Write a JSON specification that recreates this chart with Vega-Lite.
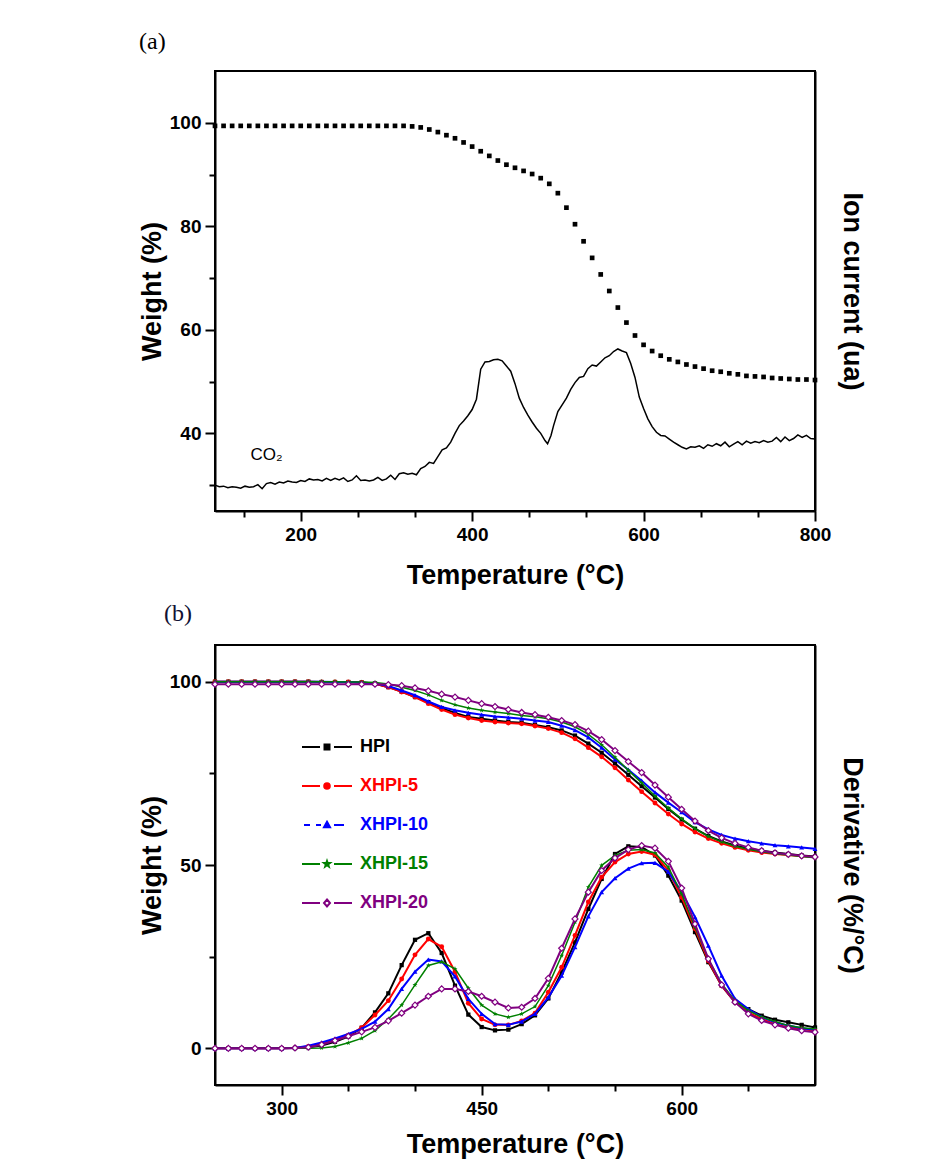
{
  "$schema": "https://vega.github.io/schema/vega-lite/v6.json",
  "background": "white",
  "padding": {"left": 137, "top": 29, "right": 10, "bottom": 6},
  "spacing": 12,
  "resolve": {"scale": {"fill": "independent", "stroke": "independent", "shape": "independent"}, "legend": {"fill": "independent", "stroke": "independent", "shape": "independent"}},
  "datasets": {
    "tgaA": [
      {"temp":100,"weight":99.4},{"temp":110,"weight":99.4},{"temp":120,"weight":99.4},{"temp":130,"weight":99.4},{"temp":140,"weight":99.4},{"temp":150,"weight":99.4},{"temp":160,"weight":99.4},{"temp":170,"weight":99.4},{"temp":180,"weight":99.4},{"temp":190,"weight":99.4},{"temp":200,"weight":99.4},{"temp":210,"weight":99.4},{"temp":220,"weight":99.4},{"temp":230,"weight":99.4},{"temp":240,"weight":99.4},{"temp":250,"weight":99.4},{"temp":260,"weight":99.4},{"temp":270,"weight":99.4},{"temp":280,"weight":99.4},{"temp":290,"weight":99.4},{"temp":300,"weight":99.4},{"temp":310,"weight":99.4},{"temp":320,"weight":99.4},{"temp":330,"weight":99.3},{"temp":340,"weight":99.1},{"temp":350,"weight":98.7},{"temp":360,"weight":98.2},{"temp":370,"weight":97.6},{"temp":380,"weight":97.0},{"temp":390,"weight":96.2},{"temp":400,"weight":95.4},{"temp":410,"weight":94.5},{"temp":420,"weight":93.6},{"temp":430,"weight":92.7},{"temp":440,"weight":91.9},{"temp":450,"weight":91.3},{"temp":460,"weight":90.7},{"temp":470,"weight":90.1},{"temp":480,"weight":89.3},{"temp":490,"weight":88.2},{"temp":500,"weight":86.4},{"temp":510,"weight":83.6},{"temp":520,"weight":80.4},{"temp":530,"weight":77.1},{"temp":540,"weight":73.9},{"temp":550,"weight":70.7},{"temp":560,"weight":67.5},{"temp":570,"weight":64.3},{"temp":580,"weight":61.4},{"temp":590,"weight":58.9},{"temp":600,"weight":57.1},{"temp":610,"weight":55.9},{"temp":620,"weight":55.0},{"temp":630,"weight":54.3},{"temp":640,"weight":53.8},{"temp":650,"weight":53.3},{"temp":660,"weight":52.9},{"temp":670,"weight":52.5},{"temp":680,"weight":52.1},{"temp":690,"weight":51.9},{"temp":700,"weight":51.6},{"temp":710,"weight":51.4},{"temp":720,"weight":51.1},{"temp":730,"weight":51.0},{"temp":740,"weight":50.9},{"temp":750,"weight":50.7},{"temp":760,"weight":50.6},{"temp":770,"weight":50.5},{"temp":780,"weight":50.4},{"temp":790,"weight":50.4},{"temp":800,"weight":50.3}
    ],
    "co2": [
      {"temp":100,"ion":30.0},{"temp":105,"ion":29.7},{"temp":110,"ion":29.8},{"temp":115,"ion":29.5},{"temp":120,"ion":29.7},{"temp":125,"ion":29.6},{"temp":130,"ion":29.4},{"temp":135,"ion":29.8},{"temp":140,"ion":29.6},{"temp":145,"ion":29.7},{"temp":150,"ion":30.1},{"temp":155,"ion":29.3},{"temp":160,"ion":30.3},{"temp":165,"ion":30.5},{"temp":170,"ion":30.2},{"temp":175,"ion":30.6},{"temp":180,"ion":30.4},{"temp":185,"ion":30.8},{"temp":190,"ion":30.6},{"temp":195,"ion":30.5},{"temp":200,"ion":30.9},{"temp":205,"ion":30.7},{"temp":210,"ion":31.2},{"temp":215,"ion":31.0},{"temp":220,"ion":31.1},{"temp":225,"ion":30.8},{"temp":230,"ion":31.3},{"temp":235,"ion":30.9},{"temp":240,"ion":31.3},{"temp":245,"ion":31.0},{"temp":250,"ion":31.4},{"temp":255,"ion":30.7},{"temp":260,"ion":31.0},{"temp":265,"ion":31.8},{"temp":270,"ion":30.9},{"temp":275,"ion":31.0},{"temp":280,"ion":30.8},{"temp":285,"ion":31.0},{"temp":290,"ion":31.5},{"temp":295,"ion":30.9},{"temp":300,"ion":31.2},{"temp":305,"ion":31.9},{"temp":310,"ion":31.1},{"temp":315,"ion":32.2},{"temp":320,"ion":32.4},{"temp":325,"ion":32.1},{"temp":330,"ion":32.3},{"temp":335,"ion":32.0},{"temp":340,"ion":33.2},{"temp":345,"ion":33.6},{"temp":350,"ion":34.4},{"temp":355,"ion":34.2},{"temp":360,"ion":35.5},{"temp":365,"ion":36.8},{"temp":370,"ion":37.2},{"temp":375,"ion":38.3},{"temp":380,"ion":40.0},{"temp":385,"ion":41.5},{"temp":390,"ion":42.4},{"temp":395,"ion":43.4},{"temp":400,"ion":44.6},{"temp":405,"ion":46.6},{"temp":410,"ion":52.4},{"temp":415,"ion":53.8},{"temp":420,"ion":53.9},{"temp":425,"ion":54.2},{"temp":430,"ion":54.3},{"temp":435,"ion":54.0},{"temp":440,"ion":53.0},{"temp":445,"ion":52.0},{"temp":450,"ion":49.6},{"temp":455,"ion":46.8},{"temp":460,"ion":45.0},{"temp":465,"ion":43.5},{"temp":470,"ion":42.2},{"temp":475,"ion":41.0},{"temp":480,"ion":40.0},{"temp":485,"ion":38.6},{"temp":488,"ion":38.0},{"temp":492,"ion":39.6},{"temp":495,"ion":41.5},{"temp":500,"ion":44.2},{"temp":505,"ion":45.5},{"temp":510,"ion":46.8},{"temp":515,"ion":48.5},{"temp":520,"ion":49.8},{"temp":525,"ion":50.8},{"temp":530,"ion":51.0},{"temp":535,"ion":52.5},{"temp":540,"ion":53.2},{"temp":545,"ion":53.0},{"temp":550,"ion":53.8},{"temp":555,"ion":54.6},{"temp":560,"ion":55.0},{"temp":565,"ion":55.8},{"temp":570,"ion":56.3},{"temp":575,"ion":55.9},{"temp":580,"ion":55.6},{"temp":585,"ion":53.5},{"temp":590,"ion":50.8},{"temp":595,"ion":47.0},{"temp":600,"ion":44.8},{"temp":605,"ion":42.8},{"temp":610,"ion":41.3},{"temp":615,"ion":40.2},{"temp":620,"ion":39.6},{"temp":625,"ion":39.5},{"temp":630,"ion":38.9},{"temp":635,"ion":38.3},{"temp":640,"ion":37.8},{"temp":645,"ion":37.3},{"temp":650,"ion":37.0},{"temp":655,"ion":37.4},{"temp":660,"ion":37.3},{"temp":665,"ion":37.6},{"temp":670,"ion":37.1},{"temp":675,"ion":37.8},{"temp":680,"ion":37.5},{"temp":685,"ion":38.0},{"temp":690,"ion":37.6},{"temp":695,"ion":38.3},{"temp":700,"ion":37.4},{"temp":705,"ion":37.9},{"temp":710,"ion":38.4},{"temp":715,"ion":37.8},{"temp":720,"ion":38.5},{"temp":725,"ion":38.1},{"temp":730,"ion":38.4},{"temp":735,"ion":38.2},{"temp":740,"ion":38.6},{"temp":745,"ion":38.3},{"temp":750,"ion":38.5},{"temp":755,"ion":39.2},{"temp":760,"ion":38.4},{"temp":765,"ion":39.3},{"temp":770,"ion":38.6},{"temp":775,"ion":39.0},{"temp":780,"ion":39.7},{"temp":785,"ion":39.2},{"temp":790,"ion":39.6},{"temp":795,"ion":39.0},{"temp":800,"ion":38.9}
    ],
    "co2label": [{"temp":160,"ion":35.8,"text":"CO₂"}],
    "tgaB": [
      {"temp":250,"HPI":100,"XHPI-5":100,"XHPI-10":100,"XHPI-15":100,"XHPI-20":99.3},
      {"temp":260,"HPI":100,"XHPI-5":100,"XHPI-10":100,"XHPI-15":100,"XHPI-20":99.3},
      {"temp":270,"HPI":100,"XHPI-5":100,"XHPI-10":100,"XHPI-15":100,"XHPI-20":99.3},
      {"temp":280,"HPI":100,"XHPI-5":100,"XHPI-10":100,"XHPI-15":100,"XHPI-20":99.3},
      {"temp":290,"HPI":100,"XHPI-5":100,"XHPI-10":100,"XHPI-15":100,"XHPI-20":99.3},
      {"temp":300,"HPI":100,"XHPI-5":100,"XHPI-10":100,"XHPI-15":100,"XHPI-20":99.3},
      {"temp":310,"HPI":100,"XHPI-5":100,"XHPI-10":100,"XHPI-15":100,"XHPI-20":99.3},
      {"temp":320,"HPI":100,"XHPI-5":100,"XHPI-10":100,"XHPI-15":100,"XHPI-20":99.3},
      {"temp":330,"HPI":99.9,"XHPI-5":99.9,"XHPI-10":100,"XHPI-15":100,"XHPI-20":99.3},
      {"temp":340,"HPI":99.9,"XHPI-5":99.9,"XHPI-10":99.9,"XHPI-15":100,"XHPI-20":99.3},
      {"temp":350,"HPI":99.9,"XHPI-5":99.9,"XHPI-10":99.9,"XHPI-15":99.9,"XHPI-20":99.3},
      {"temp":360,"HPI":99.8,"XHPI-5":99.8,"XHPI-10":99.8,"XHPI-15":99.9,"XHPI-20":99.3},
      {"temp":370,"HPI":99.5,"XHPI-5":99.4,"XHPI-10":99.5,"XHPI-15":99.8,"XHPI-20":99.3},
      {"temp":380,"HPI":98.5,"XHPI-5":98.5,"XHPI-10":98.8,"XHPI-15":99.4,"XHPI-20":99.2},
      {"temp":390,"HPI":97.3,"XHPI-5":97.2,"XHPI-10":97.6,"XHPI-15":98.5,"XHPI-20":98.9},
      {"temp":400,"HPI":95.8,"XHPI-5":95.8,"XHPI-10":96.3,"XHPI-15":97.6,"XHPI-20":98.3},
      {"temp":410,"HPI":94.4,"XHPI-5":94.0,"XHPI-10":94.6,"XHPI-15":96.4,"XHPI-20":97.5},
      {"temp":420,"HPI":92.8,"XHPI-5":92.4,"XHPI-10":93.1,"XHPI-15":94.9,"XHPI-20":96.6},
      {"temp":430,"HPI":91.5,"XHPI-5":91.0,"XHPI-10":92.2,"XHPI-15":93.7,"XHPI-20":95.8},
      {"temp":440,"HPI":90.4,"XHPI-5":90.1,"XHPI-10":91.5,"XHPI-15":92.8,"XHPI-20":94.9},
      {"temp":450,"HPI":89.9,"XHPI-5":89.4,"XHPI-10":91.0,"XHPI-15":92.2,"XHPI-20":94.0},
      {"temp":460,"HPI":89.4,"XHPI-5":89.0,"XHPI-10":90.5,"XHPI-15":91.7,"XHPI-20":93.2},
      {"temp":470,"HPI":89.0,"XHPI-5":88.7,"XHPI-10":90.2,"XHPI-15":91.3,"XHPI-20":92.4},
      {"temp":480,"HPI":88.8,"XHPI-5":88.5,"XHPI-10":89.9,"XHPI-15":90.8,"XHPI-20":91.6},
      {"temp":490,"HPI":88.2,"XHPI-5":87.9,"XHPI-10":89.4,"XHPI-15":90.4,"XHPI-20":91.0},
      {"temp":500,"HPI":87.6,"XHPI-5":87.2,"XHPI-10":89.0,"XHPI-15":89.9,"XHPI-20":90.3},
      {"temp":510,"HPI":86.7,"XHPI-5":86.1,"XHPI-10":88.0,"XHPI-15":89.0,"XHPI-20":89.4},
      {"temp":520,"HPI":85.3,"XHPI-5":84.4,"XHPI-10":86.8,"XHPI-15":87.7,"XHPI-20":88.3},
      {"temp":530,"HPI":83.1,"XHPI-5":82.0,"XHPI-10":84.8,"XHPI-15":85.6,"XHPI-20":86.5},
      {"temp":540,"HPI":80.6,"XHPI-5":79.5,"XHPI-10":82.0,"XHPI-15":82.8,"XHPI-20":84.2},
      {"temp":550,"HPI":77.7,"XHPI-5":76.5,"XHPI-10":78.8,"XHPI-15":79.4,"XHPI-20":81.2},
      {"temp":560,"HPI":74.6,"XHPI-5":73.2,"XHPI-10":76.0,"XHPI-15":75.8,"XHPI-20":78.2},
      {"temp":570,"HPI":71.5,"XHPI-5":70.0,"XHPI-10":73.0,"XHPI-15":72.4,"XHPI-20":75.2},
      {"temp":580,"HPI":68.4,"XHPI-5":66.9,"XHPI-10":69.8,"XHPI-15":68.8,"XHPI-20":71.8},
      {"temp":590,"HPI":65.3,"XHPI-5":63.9,"XHPI-10":67.0,"XHPI-15":65.5,"XHPI-20":68.5},
      {"temp":600,"HPI":62.4,"XHPI-5":61.2,"XHPI-10":64.4,"XHPI-15":62.6,"XHPI-20":65.2},
      {"temp":610,"HPI":59.9,"XHPI-5":59.0,"XHPI-10":61.7,"XHPI-15":59.9,"XHPI-20":62.0},
      {"temp":620,"HPI":57.9,"XHPI-5":57.2,"XHPI-10":59.7,"XHPI-15":57.8,"XHPI-20":59.4},
      {"temp":630,"HPI":56.4,"XHPI-5":55.9,"XHPI-10":58.2,"XHPI-15":56.3,"XHPI-20":57.4},
      {"temp":640,"HPI":55.3,"XHPI-5":54.8,"XHPI-10":57.2,"XHPI-15":55.1,"XHPI-20":55.9},
      {"temp":650,"HPI":54.5,"XHPI-5":54.0,"XHPI-10":56.5,"XHPI-15":54.3,"XHPI-20":54.8},
      {"temp":660,"HPI":53.9,"XHPI-5":53.4,"XHPI-10":55.9,"XHPI-15":53.6,"XHPI-20":53.9},
      {"temp":670,"HPI":53.4,"XHPI-5":53.0,"XHPI-10":55.4,"XHPI-15":53.1,"XHPI-20":53.3},
      {"temp":680,"HPI":53.0,"XHPI-5":52.7,"XHPI-10":55.1,"XHPI-15":52.7,"XHPI-20":52.9},
      {"temp":690,"HPI":52.6,"XHPI-5":52.4,"XHPI-10":54.8,"XHPI-15":52.3,"XHPI-20":52.5},
      {"temp":700,"HPI":52.3,"XHPI-5":52.1,"XHPI-10":54.4,"XHPI-15":52.0,"XHPI-20":52.2}
    ],
    "dtgB": [
      {"temp":250,"HPI":0,"XHPI-5":0,"XHPI-10":0,"XHPI-15":0,"XHPI-20":0},
      {"temp":260,"HPI":0,"XHPI-5":0,"XHPI-10":0,"XHPI-15":0,"XHPI-20":0},
      {"temp":270,"HPI":0,"XHPI-5":0,"XHPI-10":0,"XHPI-15":0,"XHPI-20":0},
      {"temp":280,"HPI":0,"XHPI-5":0,"XHPI-10":0,"XHPI-15":0,"XHPI-20":0},
      {"temp":290,"HPI":0,"XHPI-5":0,"XHPI-10":0,"XHPI-15":0,"XHPI-20":0},
      {"temp":300,"HPI":0,"XHPI-5":0,"XHPI-10":0,"XHPI-15":0,"XHPI-20":0},
      {"temp":310,"HPI":0.1,"XHPI-5":0.1,"XHPI-10":0.1,"XHPI-15":0,"XHPI-20":0.1},
      {"temp":320,"HPI":0.3,"XHPI-5":0.5,"XHPI-10":0.7,"XHPI-15":0,"XHPI-20":0.3},
      {"temp":330,"HPI":0.8,"XHPI-5":1.2,"XHPI-10":1.6,"XHPI-15":0.1,"XHPI-20":1.0},
      {"temp":340,"HPI":1.8,"XHPI-5":2.3,"XHPI-10":2.7,"XHPI-15":0.5,"XHPI-20":2.1},
      {"temp":350,"HPI":3.2,"XHPI-5":3.6,"XHPI-10":3.9,"XHPI-15":1.5,"XHPI-20":3.3},
      {"temp":360,"HPI":5.6,"XHPI-5":5.6,"XHPI-10":5.3,"XHPI-15":2.7,"XHPI-20":4.5},
      {"temp":370,"HPI":9.8,"XHPI-5":9.1,"XHPI-10":7.3,"XHPI-15":4.8,"XHPI-20":5.7},
      {"temp":380,"HPI":15.0,"XHPI-5":13.0,"XHPI-10":10.7,"XHPI-15":8.0,"XHPI-20":7.5},
      {"temp":390,"HPI":22.7,"XHPI-5":18.9,"XHPI-10":16.2,"XHPI-15":11.8,"XHPI-20":9.6},
      {"temp":400,"HPI":29.6,"XHPI-5":25.5,"XHPI-10":20.9,"XHPI-15":17.3,"XHPI-20":11.8},
      {"temp":410,"HPI":31.4,"XHPI-5":29.8,"XHPI-10":24.2,"XHPI-15":22.6,"XHPI-20":14.2},
      {"temp":420,"HPI":26.0,"XHPI-5":27.7,"XHPI-10":23.7,"XHPI-15":23.6,"XHPI-20":16.2},
      {"temp":430,"HPI":17.1,"XHPI-5":20.9,"XHPI-10":19.6,"XHPI-15":21.7,"XHPI-20":16.2},
      {"temp":440,"HPI":9.2,"XHPI-5":12.3,"XHPI-10":13.5,"XHPI-15":16.4,"XHPI-20":15.5},
      {"temp":450,"HPI":5.8,"XHPI-5":8.0,"XHPI-10":9.4,"XHPI-15":11.8,"XHPI-20":14.2},
      {"temp":460,"HPI":4.9,"XHPI-5":6.4,"XHPI-10":6.6,"XHPI-15":9.4,"XHPI-20":12.6},
      {"temp":470,"HPI":5.1,"XHPI-5":6.4,"XHPI-10":6.4,"XHPI-15":8.5,"XHPI-20":11.0},
      {"temp":480,"HPI":6.6,"XHPI-5":7.5,"XHPI-10":7.3,"XHPI-15":9.4,"XHPI-20":11.2},
      {"temp":490,"HPI":9.0,"XHPI-5":9.6,"XHPI-10":9.4,"XHPI-15":11.4,"XHPI-20":13.6},
      {"temp":500,"HPI":13.6,"XHPI-5":15.3,"XHPI-10":13.9,"XHPI-15":17.1,"XHPI-20":19.1},
      {"temp":510,"HPI":20.7,"XHPI-5":22.1,"XHPI-10":19.8,"XHPI-15":25.3,"XHPI-20":27.3},
      {"temp":520,"HPI":28.9,"XHPI-5":30.8,"XHPI-10":27.6,"XHPI-15":34.4,"XHPI-20":35.3},
      {"temp":530,"HPI":38.0,"XHPI-5":39.9,"XHPI-10":36.0,"XHPI-15":44.0,"XHPI-20":42.6},
      {"temp":540,"HPI":46.2,"XHPI-5":46.7,"XHPI-10":42.6,"XHPI-15":49.9,"XHPI-20":48.5},
      {"temp":550,"HPI":53.0,"XHPI-5":50.8,"XHPI-10":46.4,"XHPI-15":52.6,"XHPI-20":51.9},
      {"temp":560,"HPI":55.1,"XHPI-5":53.0,"XHPI-10":49.0,"XHPI-15":54.0,"XHPI-20":54.2},
      {"temp":570,"HPI":54.9,"XHPI-5":53.7,"XHPI-10":50.5,"XHPI-15":54.2,"XHPI-20":55.3},
      {"temp":580,"HPI":52.6,"XHPI-5":52.8,"XHPI-10":50.6,"XHPI-15":53.3,"XHPI-20":54.6},
      {"temp":590,"HPI":47.1,"XHPI-5":48.5,"XHPI-10":48.2,"XHPI-15":49.4,"XHPI-20":51.0},
      {"temp":600,"HPI":40.3,"XHPI-5":41.2,"XHPI-10":42.6,"XHPI-15":42.1,"XHPI-20":43.7},
      {"temp":610,"HPI":31.7,"XHPI-5":32.6,"XHPI-10":35.8,"XHPI-15":33.0,"XHPI-20":33.9},
      {"temp":620,"HPI":23.5,"XHPI-5":23.9,"XHPI-10":28.0,"XHPI-15":24.4,"XHPI-20":24.4},
      {"temp":630,"HPI":17.1,"XHPI-5":17.1,"XHPI-10":19.8,"XHPI-15":17.6,"XHPI-20":17.3},
      {"temp":640,"HPI":12.6,"XHPI-5":12.6,"XHPI-10":13.5,"XHPI-15":13.0,"XHPI-20":12.6},
      {"temp":650,"HPI":10.7,"XHPI-5":9.8,"XHPI-10":10.7,"XHPI-15":10.3,"XHPI-20":9.4},
      {"temp":660,"HPI":8.9,"XHPI-5":8.0,"XHPI-10":8.5,"XHPI-15":8.5,"XHPI-20":7.6},
      {"temp":670,"HPI":7.8,"XHPI-5":6.6,"XHPI-10":7.1,"XHPI-15":7.3,"XHPI-20":6.4},
      {"temp":680,"HPI":7.1,"XHPI-5":5.7,"XHPI-10":6.2,"XHPI-15":6.2,"XHPI-20":5.5},
      {"temp":690,"HPI":6.4,"XHPI-5":5.3,"XHPI-10":5.5,"XHPI-15":5.6,"XHPI-20":4.8},
      {"temp":700,"HPI":5.7,"XHPI-5":4.8,"XHPI-10":5.1,"XHPI-15":5.3,"XHPI-20":4.4}
    ],
    "legend": [{"sample":"HPI"},{"sample":"XHPI-5"},{"sample":"XHPI-10"},{"sample":"XHPI-15"},{"sample":"XHPI-20"}]
  },
  "config": {
    "view": {"stroke": "black", "strokeWidth": 2},
    "axis": {
      "grid": false, "domainColor": "black", "domainWidth": 2, "tickColor": "black", "tickWidth": 2,
      "labelFont": "Liberation Sans", "labelFontSize": 19, "labelFontWeight": "bold", "labelColor": "black",
      "titleFont": "Liberation Sans", "titleFontSize": 27, "titleFontWeight": "bold", "titleColor": "black",
      "labelPadding": 4, "labelFlush": false, "labelOverlap": false
    }
  },
  "vconcat": [
    {
      "title": {"text": "(a)", "anchor": "start", "frame": "group", "dx": -76, "offset": -2, "font": "Liberation Serif", "fontSize": 24, "fontWeight": "normal", "color": "black", "baseline": "alphabetic"},
      "width": 600,
      "height": 440,
      "layer": [
        {
          "data": {"name": "tgaA"},
          "mark": {"type": "point", "shape": "square", "filled": true, "color": "black", "size": 22, "opacity": 1},
          "encoding": {
            "x": {"field": "temp", "type": "quantitative", "scale": {"domain": [100, 800], "nice": false, "zero": false},
                  "axis": {"title": "Temperature (°C)", "values": [133.333, 200, 266.667, 333.333, 400, 466.667, 533.333, 600, 666.667, 733.333, 800],
                           "labelExpr": "datum.value % 200 == 0 ? datum.label : ''",
                           "tickSize": {"condition": {"test": "datum.value % 200 == 0", "value": 10}, "value": 6},
                           "titlePadding": 18}},
            "y": {"field": "weight", "type": "quantitative", "scale": {"domain": [25, 110], "nice": false, "zero": false},
                  "axis": {"title": "Weight (%)", "values": [30, 40, 50, 60, 70, 80, 90, 100],
                           "labelExpr": "datum.value % 20 == 0 ? datum.label : ''",
                           "tickSize": {"condition": {"test": "datum.value % 20 == 0", "value": 10}, "value": 6},
                           "titlePadding": 3}}
          }
        },
        {
          "layer": [
            {
              "data": {"name": "co2"},
              "mark": {"type": "line", "color": "black", "strokeWidth": 1.5},
              "encoding": {
                "x": {"field": "temp", "type": "quantitative"},
                "y": {"field": "ion", "type": "quantitative", "scale": {"domain": [25, 110], "nice": false, "zero": false},
                      "axis": {"orient": "right", "title": "Ion current (ua)", "labels": false, "ticks": false, "domain": true, "titlePadding": 22}}
              }
            },
            {
              "data": {"name": "co2label"},
              "mark": {"type": "text", "font": "Liberation Sans", "fontSize": 17, "color": "black"},
              "encoding": {
                "x": {"field": "temp", "type": "quantitative"},
                "y": {"field": "ion", "type": "quantitative"},
                "text": {"field": "text"}
              }
            }
          ]
        }
      ],
      "resolve": {"scale": {"y": "independent"}}
    },
    {
      "title": {"text": "(b)", "anchor": "start", "frame": "group", "dx": -51, "offset": 0, "font": "Liberation Serif", "fontSize": 24, "fontWeight": "normal", "color": "#111133", "baseline": "alphabetic"},
      "width": 600,
      "height": 440,
      "layer": [
        {
          "data": {"name": "tgaB"},
          "transform": [{"fold": ["HPI", "XHPI-5", "XHPI-10", "XHPI-15", "XHPI-20"], "as": ["sample", "weight"]}],
          "encoding": {
            "x": {"field": "temp", "type": "quantitative", "scale": {"domain": [250, 700], "nice": false, "zero": false},
                  "axis": {"title": "Temperature (°C)", "values": [300, 350, 400, 450, 500, 550, 600, 650],
                           "labelExpr": "datum.value % 150 == 0 ? datum.label : ''",
                           "tickSize": {"condition": {"test": "datum.value % 150 == 0", "value": 10}, "value": 6},
                           "titlePadding": 13}},
            "y": {"field": "weight", "type": "quantitative", "scale": {"domain": [-10, 110], "nice": false, "zero": false},
                  "axis": {"title": "Weight (%)", "values": [0, 25, 50, 75, 100],
                           "labelExpr": "datum.value % 50 == 0 ? datum.label : ''",
                           "tickSize": {"condition": {"test": "datum.value % 50 == 0", "value": 10}, "value": 6},
                           "titlePadding": 3}}
          },
          "layer": [
            {"transform": [{"filter": "datum.sample == 'HPI'"}], "mark": {"type": "line", "color": "black", "strokeWidth": 2, "point": {"shape": "square", "size": 18, "filled": true, "color": "black"}}},
            {"transform": [{"filter": "datum.sample == 'XHPI-5'"}], "mark": {"type": "line", "color": "#ff0000", "strokeWidth": 2, "point": {"shape": "circle", "size": 24, "filled": true, "color": "#ff0000"}}},
            {"transform": [{"filter": "datum.sample == 'XHPI-10'"}], "mark": {"type": "line", "color": "#0000ff", "strokeWidth": 2, "point": {"shape": "triangle-up", "size": 24, "filled": true, "color": "#0000ff"}}},
            {"transform": [{"filter": "datum.sample == 'XHPI-15'"}], "mark": {"type": "line", "color": "#008000", "strokeWidth": 1.5, "point": {"shape": "M0,-1L0.235,-0.324L0.951,-0.309L0.38,0.124L0.588,0.809L0,0.4L-0.588,0.809L-0.38,0.124L-0.951,-0.309L-0.235,-0.324Z", "size": 28, "filled": true, "color": "#008000"}}},
            {"transform": [{"filter": "datum.sample == 'XHPI-20'"}], "mark": {"type": "line", "color": "#800080", "strokeWidth": 2, "point": {"shape": "diamond", "size": 36, "filled": true, "fill": "white", "stroke": "#800080", "strokeWidth": 1.2}}}
          ]
        },
        {
          "data": {"name": "dtgB"},
          "transform": [{"fold": ["HPI", "XHPI-5", "XHPI-10", "XHPI-15", "XHPI-20"], "as": ["sample", "deriv"]}],
          "encoding": {
            "x": {"field": "temp", "type": "quantitative"},
            "y": {"field": "deriv", "type": "quantitative", "scale": {"domain": [-10, 110], "nice": false, "zero": false},
                  "axis": {"orient": "right", "title": "Derivative (%/°C)", "labels": false, "ticks": false, "domain": true, "titlePadding": 22}}
          },
          "layer": [
            {"transform": [{"filter": "datum.sample == 'HPI'"}], "mark": {"type": "line", "color": "black", "strokeWidth": 2, "point": {"shape": "square", "size": 18, "filled": true, "color": "black"}}},
            {"transform": [{"filter": "datum.sample == 'XHPI-5'"}], "mark": {"type": "line", "color": "#ff0000", "strokeWidth": 2, "point": {"shape": "circle", "size": 24, "filled": true, "color": "#ff0000"}}},
            {"transform": [{"filter": "datum.sample == 'XHPI-10'"}], "mark": {"type": "line", "color": "#0000ff", "strokeWidth": 2, "point": {"shape": "triangle-up", "size": 24, "filled": true, "color": "#0000ff"}}},
            {"transform": [{"filter": "datum.sample == 'XHPI-15'"}], "mark": {"type": "line", "color": "#008000", "strokeWidth": 1.5, "point": {"shape": "M0,-1L0.235,-0.324L0.951,-0.309L0.38,0.124L0.588,0.809L0,0.4L-0.588,0.809L-0.38,0.124L-0.951,-0.309L-0.235,-0.324Z", "size": 28, "filled": true, "color": "#008000"}}},
            {"transform": [{"filter": "datum.sample == 'XHPI-20'"}], "mark": {"type": "line", "color": "#800080", "strokeWidth": 2, "point": {"shape": "diamond", "size": 36, "filled": true, "fill": "white", "stroke": "#800080", "strokeWidth": 1.2}}}
          ]
        },
        {
          "data": {"name": "legend"},
          "mark": {"type": "point", "filled": true, "opacity": 0},
          "encoding": {
            "fill": {"field": "sample", "type": "nominal",
                     "scale": {"domain": ["HPI", "XHPI-5", "XHPI-10", "XHPI-15", "XHPI-20"], "range": ["#000000", "#ff0000", "#0000ff", "#008000", "#ffffff"]},
                     "legend": {"title": null, "orient": "none", "legendX": 101, "legendY": 91, "padding": 0, "symbolSize": 400, "symbolStrokeWidth": 2, "symbolOpacity": 1, "labelFont": "Liberation Sans", "labelFontSize": 18, "labelFontWeight": "bold", "labelOffset": 22, "rowPadding": 19,
                                "labelColor": {"expr": "datum.label == 'HPI' ? '#000000' : datum.label == 'XHPI-5' ? '#ff0000' : datum.label == 'XHPI-10' ? '#0000ff' : datum.label == 'XHPI-15' ? '#008000' : '#800080'"}}},
            "stroke": {"field": "sample", "type": "nominal",
                       "scale": {"domain": ["HPI", "XHPI-5", "XHPI-10", "XHPI-15", "XHPI-20"], "range": ["#000000", "#ff0000", "#0000ff", "#008000", "#800080"]},
                       "legend": {"title": null, "orient": "none", "legendX": 101, "legendY": 91, "padding": 0, "symbolSize": 400, "symbolStrokeWidth": 2, "symbolOpacity": 1, "labelFont": "Liberation Sans", "labelFontSize": 18, "labelFontWeight": "bold", "labelOffset": 22, "rowPadding": 19,
                                  "labelColor": {"expr": "datum.label == 'HPI' ? '#000000' : datum.label == 'XHPI-5' ? '#ff0000' : datum.label == 'XHPI-10' ? '#0000ff' : datum.label == 'XHPI-15' ? '#008000' : '#800080'"}}},
            "shape": {"field": "sample", "type": "nominal",
                      "scale": {"domain": ["HPI", "XHPI-5", "XHPI-10", "XHPI-15", "XHPI-20"],
                                "range": [
                                  "M-2.5,0H-0.7M0.7,0H2.5M-0.25,-0.25H0.25V0.25H-0.25Z",
                                  "M-2.5,0H-0.7M0.7,0H2.5M-0.28,0A0.28,0.28 0 1,0 0.28,0A0.28,0.28 0 1,0 -0.28,0Z",
                                  "M-2.3,0H-1.7M-1.1,0H-0.6M0.7,0H1.7M0,-0.32L0.3,0.22H-0.3Z",
                                  "M-2.5,0H-0.7M0.7,0H2.5M0,-0.3L0.071,-0.097L0.285,-0.093L0.114,0.037L0.176,0.243L0,0.12L-0.176,0.243L-0.114,0.037L-0.285,-0.093L-0.071,-0.097Z",
                                  "M-2.5,0H-0.7M0.7,0H2.5M0,-0.35L0.3,0L0,0.35L-0.3,0Z"
                                ]},
                      "legend": {"title": null, "orient": "none", "legendX": 101, "legendY": 91, "padding": 0, "symbolSize": 400, "symbolStrokeWidth": 2, "symbolOpacity": 1, "labelFont": "Liberation Sans", "labelFontSize": 18, "labelFontWeight": "bold", "labelOffset": 22, "rowPadding": 19,
                                 "labelColor": {"expr": "datum.label == 'HPI' ? '#000000' : datum.label == 'XHPI-5' ? '#ff0000' : datum.label == 'XHPI-10' ? '#0000ff' : datum.label == 'XHPI-15' ? '#008000' : '#800080'"}}}
          }
        }
      ],
      "resolve": {"scale": {"y": "independent"}}
    }
  ]
}
